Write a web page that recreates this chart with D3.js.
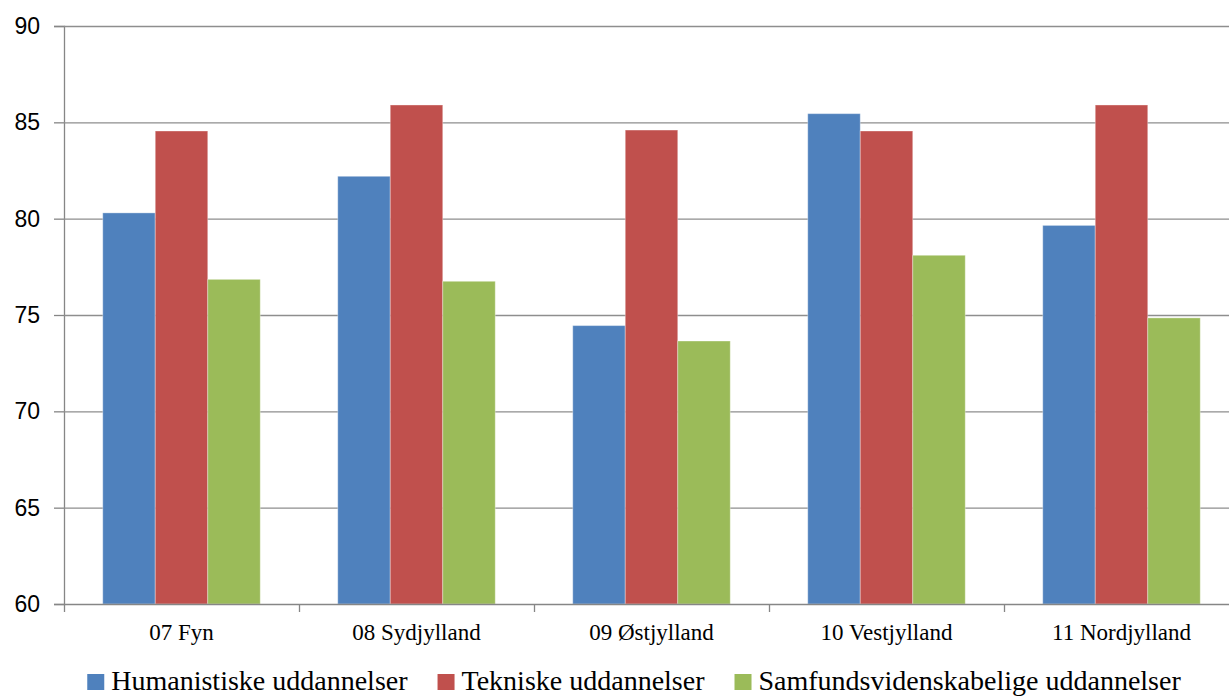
<!DOCTYPE html>
<html>
<head>
<meta charset="utf-8">
<script src="https://cdn.jsdelivr.net/npm/d3@7"></script>
<style>
  body { margin: 0; background: #fff; }
  svg { display: block; }
  .serif { font-family: "Liberation Serif", "Times New Roman", serif; }
</style>
</head>
<body>
<div id="chart"></div>
<script>
var margin = {top: 26, left: 64},
    width = 1229,
    height = 697;

// regions on the x-axis
var regions = ["07 Fyn", "08 Sydjylland", "09 Østjylland", "10 Vestjylland", "11 Nordjylland"];

// series names and colours
var seriesNames = ["Humanistiske uddannelser", "Tekniske uddannelser", "Samfundsvidenskabelige uddannelser"];
var seriesColors = ["#4F81BD", "#C0504D", "#9BBB59"];

// values, one per region
var humanistiske = [80.3, 82.2, 74.45, 85.45, 79.65];
var tekniske = [84.55, 85.9, 84.6, 84.55, 85.9];
var samfund = [76.85, 76.75, 73.65, 78.1, 74.85];

var yTicks = [60, 65, 70, 75, 80, 85, 90];

var allSeries = [humanistiske, tekniske, samfund];

var svg = d3.select("#chart").append("svg")
    .attr("width", width)
    .attr("height", height);

// x scales: one per region, one inside each region for the series
var xScale = d3.scaleBand()
    .domain(regions)
    .range([margin.left, 1239])
    .padding(0);

var xInner = d3.scaleBand()
    .domain(d3.range(seriesNames.length))
    .range([0, xScale.bandwidth()])
    .paddingInner(0)
    .paddingOuter(0.738);

var yScale = d3.scaleLinear()
    .domain([60, 90])
    .range([604, margin.top]);

// y axis
var yAxis = svg.append("g")
    .attr("transform", "translate(" + margin.left + ",0)")
    .call(d3.axisLeft(yScale).tickValues(yTicks).tickSize(10).tickPadding(14))
yAxis.select(".domain").attr("stroke", "#868686").attr("stroke-width", 1.3);
yAxis.selectAll(".tick line").attr("stroke", "#868686").attr("stroke-width", 1.3);
yAxis.selectAll(".tick text")
    .style("font-family", "'Liberation Sans', Arial, sans-serif")
    .style("font-size", "23px")
    .attr("fill", "#000");

// gridlines
svg.append("g")
    .selectAll("line")
    .data(yTicks.slice(1))
    .enter().append("line")
    .attr("x1", margin.left)
    .attr("x2", width)
    .attr("y1", function(d) { return yScale(d) + 0.5; })
    .attr("y2", function(d) { return yScale(d) + 0.5; })
    .attr("stroke", "#8e8e8e")
    .attr("stroke-width", 1.4);

// bars
var groups = svg.append("g")
    .selectAll("g")
    .data(regions)
    .enter().append("g")
    .attr("transform", function(d) { return "translate(" + xScale(d) + ",0)"; });

groups.selectAll("rect")
    .data(function(d, i) {
        return allSeries.map(function(s, j) { return {series: j, value: s[i]}; });
    })
    .enter().append("rect")
    .attr("x", function(d) { return xInner(d.series); })
    .attr("y", function(d) { return yScale(d.value); })
    .attr("width", xInner.bandwidth())
    .attr("height", function(d) { return yScale(60) - yScale(d.value); })
    .attr("fill", function(d) { return seriesColors[d.series]; })
    .attr("stroke", "rgba(255,255,255,0.35)")
    .attr("stroke-width", 1);

// x axis
var xAxis = svg.append("g")
    .attr("transform", "translate(0," + yScale(60) + ")")
    .call(d3.axisBottom(xScale).tickSize(0).tickPadding(20));
xAxis.select(".domain").attr("stroke", "#868686").attr("stroke-width", 1.3);
xAxis.selectAll(".tick text")
    .attr("class", "serif")
    .attr("font-family", null)
    .style("font-family", "'Liberation Serif', 'Times New Roman', serif")
    .style("font-size", "23px")
    .attr("fill", "#000");

// tick marks between regions
svg.append("g")
    .selectAll("line")
    .data(regions)
    .enter().append("line")
    .attr("x1", function(d) { return xScale(d) + 0.5; })
    .attr("x2", function(d) { return xScale(d) + 0.5; })
    .attr("y1", yScale(60))
    .attr("y2", yScale(60) + 8)
    .attr("stroke", "#868686")
    .attr("stroke-width", 1.3);

// legend
var legend = svg.append("g")
    .attr("font-family", "'Liberation Serif', 'Times New Roman', serif");
var items = legend.selectAll("g")
    .data(seriesNames)
    .enter().append("g");

items.append("rect")
    .attr("y", 674)
    .attr("width", 17)
    .attr("height", 16)
    .attr("fill", function(d, i) { return seriesColors[i]; });

items.append("text")
    .attr("class", "serif")
    .attr("x", 24)
    .attr("y", 690)
    .style("font-family", "'Liberation Serif', 'Times New Roman', serif")
    .style("font-size", "28px")
    .attr("fill", "#000")
    .text(function(d) { return d; });

var xPos = 0;
items.each(function() {
    var w = d3.select(this).select("text").node().getComputedTextLength();
    d3.select(this).attr("transform", "translate(" + xPos + ",0)");
    xPos += 24 + w + 30;
});
xPos -= 30;
legend.attr("transform", "translate(" + (634 - xPos / 2) + ",0)");
</script>
</body>
</html>
